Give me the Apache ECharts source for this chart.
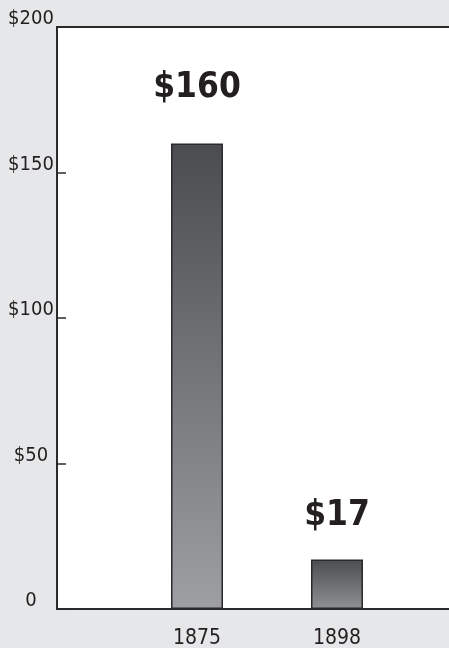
<!DOCTYPE html>
<html>
<head>
<meta charset="utf-8">
<script src="https://cdn.jsdelivr.net/npm/echarts@6/dist/echarts.min.js"></script>
<style>
html,body{margin:0;padding:0;background:#e6e7e8;}
#chart{width:449px;height:648px;}
</style>
</head>
<body>
<div id="chart"></div>
<script>
var categories = ['', '1875', '1898', ''];
var values = [null, 160, 17, null];
var valueLabels = ['', '$160', '$17', ''];
var yTicks = {0: '0', 50: '$50', 100: '$100', 150: '$150', 200: '$200'};

var FONT = '"Liberation Sans Narrow", "DejaVu Sans Condensed", "Roboto Condensed", sans-serif';
var TEXT = '#231f20';
var bottomColors = ['#9d9fa2', '#9d9fa2', '#8f9194', '#9d9fa2'];
var labelDist = [0, 38, 26, 0];

var chart = echarts.init(document.getElementById('chart'));
var data = values.map(function (v, i) {
  if (v === null) return null;
  return {
    value: v,
    itemStyle: {
      color: new echarts.graphic.LinearGradient(0, 0, 0, 1, [
        {offset: 0, color: '#4a4c4f'},
        {offset: 1, color: bottomColors[i]}
      ])
    },
    label: {distance: labelDist[i], formatter: valueLabels[i]}
  };
});

chart.setOption({
  backgroundColor: '#e6e7e8',
  animation: false,
  grid: {
    left: 57, top: 27, bottom: 39, width: 420,
    outerBoundsMode: 'none',
    containLabel: false,
    show: true, backgroundColor: '#ffffff',
    borderColor: '#2a2a2a', borderWidth: 2
  },
  xAxis: {
    type: 'category',
    data: categories,
    boundaryGap: false,
    axisLine: {show: true, lineStyle: {color: '#2a2a2a', width: 2}},
    axisTick: {show: false},
    axisLabel: {color: TEXT, fontFamily: FONT, fontSize: 21, margin: 19, interval: 0},
    splitLine: {show: false}
  },
  yAxis: {
    type: 'value',
    min: 0, max: 200, interval: 50,
    axisLine: {show: true, lineStyle: {color: '#2a2a2a', width: 2}},
    axisTick: {show: true, inside: true, length: 9, lineStyle: {color: '#2a2a2a', width: 1.5}},
    splitLine: {show: false},
    axisLabel: {
      color: TEXT, fontFamily: FONT, fontSize: 20, margin: 26, align: 'center',
      verticalAlign: 'bottom', lineHeight: 16,
      formatter: function (v) { return yTicks[v]; }
    }
  },
  series: [{
    type: 'bar',
    data: data,
    barWidth: 52,
    itemStyle: {borderColor: '#2a2a2a', borderWidth: 1.5},
    label: {
      show: true, position: 'top', color: TEXT,
      fontFamily: FONT, fontSize: 35, fontWeight: 'bold'
    }
  }]
});
</script>
</body>
</html>
